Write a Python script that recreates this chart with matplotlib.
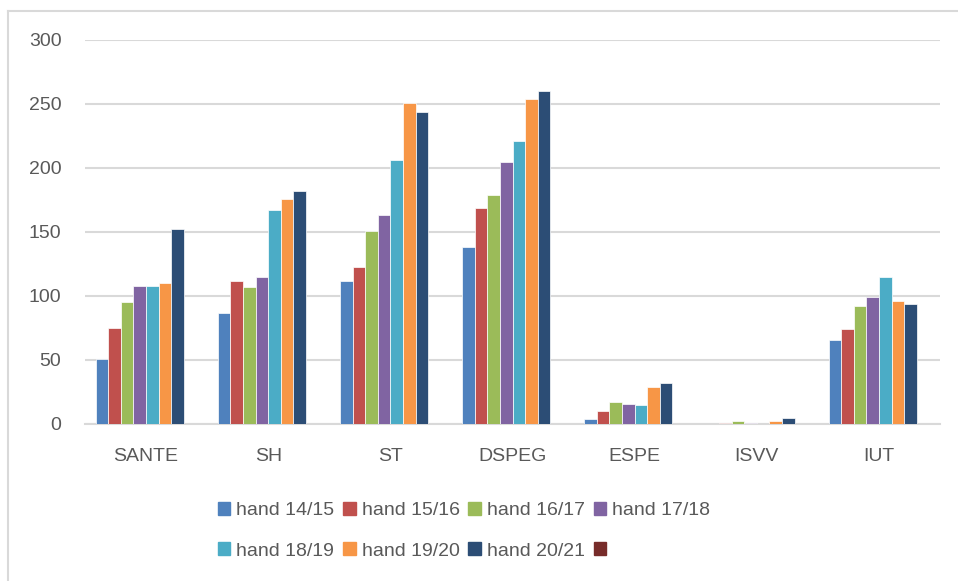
import matplotlib
matplotlib.use("Agg")
import matplotlib.pyplot as plt
import numpy as np
from matplotlib.lines import Line2D

plt.rcParams["font.family"] = ["Liberation Sans", "DejaVu Sans"]

categories = ["SANTE", "SH", "ST", "DSPEG", "ESPE", "ISVV", "IUT"]
series_names = ["hand 14/15", "hand 15/16", "hand 16/17", "hand 17/18",
                "hand 18/19", "hand 19/20", "hand 20/21", ""]
hand_14_15 = [51, 87, 112, 138, 4, 0, 66]
hand_15_16 = [75, 112, 123, 169, 10, 1, 74]
hand_16_17 = [95, 107, 151, 179, 17, 2, 92]
hand_17_18 = [108, 115, 163, 205, 16, 1, 99]
hand_18_19 = [108, 167, 206, 221, 15, 0, 115]
hand_19_20 = [110, 176, 251, 254, 29, 2, 96]
hand_20_21 = [152, 182, 244, 260, 32, 5, 94]
hand_empty = [np.nan] * 7  # 8th series in the source has no data

series = [hand_14_15, hand_15_16, hand_16_17, hand_17_18,
          hand_18_19, hand_19_20, hand_20_21, hand_empty]
colors = ["#4F81BD", "#C0504D", "#9BBB59", "#8064A2",
          "#4BACC6", "#F79646", "#2C4D75", "#772C2A"]

W, H = 958, 581
fig = plt.figure(figsize=(W / 100, H / 100), dpi=100)
ax = fig.add_axes([85 / W, 1 - 424 / H, (940 - 85) / W, (424 - 40) / H])

x = np.arange(len(categories))
slot = 0.103
n = len(series)
for k, (vals, c) in enumerate(zip(series, colors)):
    off = (k - (n - 1) / 2) * slot
    ax.bar(x + off, vals, width=slot, color=c, edgecolor="white", lw=0.5,
           zorder=3)

ax.set_xlim(-0.5, len(categories) - 0.5)
ax.set_ylim(0, 300)
ax.set_yticks(range(0, 301, 50))
ax.set_xticks(x)
ax.set_xticklabels(categories)
ax.grid(axis="y", color="#D9D9D9", lw=1.5, zorder=0)
for s in ["top", "right", "left"]:
    ax.spines[s].set_visible(False)
ax.spines["bottom"].set_color("#D9D9D9")
ax.spines["bottom"].set_linewidth(1.5)
ax.tick_params(axis="both", length=0, labelsize=14, colors="#595959")
ax.tick_params(axis="y", pad=17)
ax.tick_params(axis="x", pad=17)

handles = [plt.Rectangle((0, 0), 1, 1, color=c) for c in colors]
order = [0, 4, 1, 5, 2, 6, 3, 7]
fig.legend([handles[i] for i in order], [series_names[i] for i in order],
           ncol=4, loc="upper left", bbox_to_anchor=(208 / W, 1 - 492 / H),
           frameon=False, fontsize=14, handlelength=0.65, handleheight=0.65,
           handletextpad=0.3, columnspacing=0.45, labelspacing=1.2,
           borderpad=0, labelcolor="#595959")

# chart area border (partly cropped in the source)
fig.add_artist(Line2D([8 / W, 1], [1 - 11 / H, 1 - 11 / H], color="#D9D9D9",
                      lw=1.5))
fig.add_artist(Line2D([8 / W, 8 / W], [0, 1 - 11 / H], color="#D9D9D9",
                      lw=1.5))

fig.savefig("out.png", dpi=100)
